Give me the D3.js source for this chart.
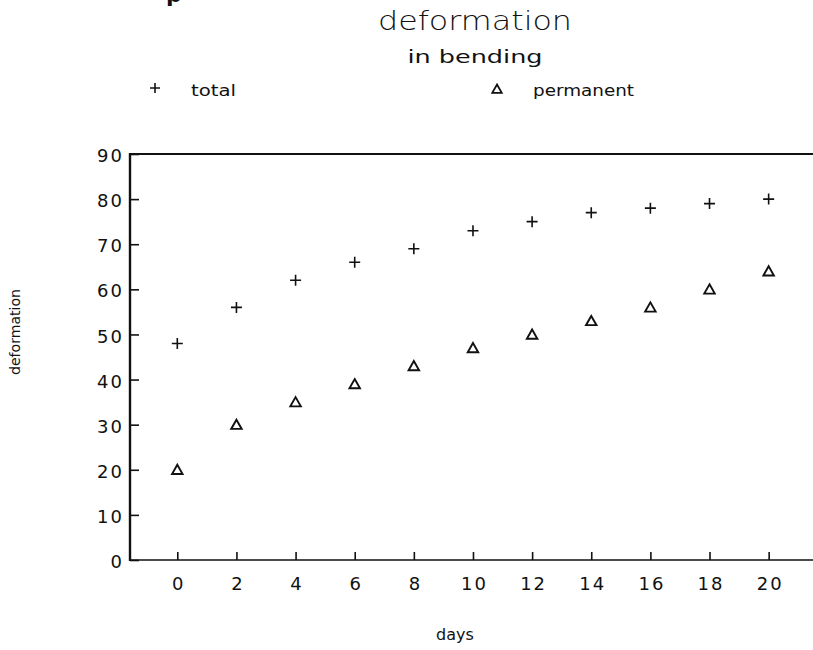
<!DOCTYPE html>
<html>
<head>
<meta charset="utf-8">
<script src="https://cdn.jsdelivr.net/npm/d3@7"></script>
<style>
  html, body { margin: 0; padding: 0; background: #fff; }
  svg { display: block; }
  text { font-family: "DejaVu Sans", sans-serif; fill: #111; }
</style>
</head>
<body>
<svg id="chart" width="813" height="650"></svg>
<script>
// Deformation in bending over time
const days = [0, 2, 4, 6, 8, 10, 12, 14, 16, 18, 20];
const total = [48, 56, 62, 66, 69, 73, 75, 77, 78, 79, 80];
const permanent = [20, 30, 35, 39, 43, 47, 50, 53, 56, 60, 64];
const xTicks = [0, 2, 4, 6, 8, 10, 12, 14, 16, 18, 20];
const yTicks = [0, 10, 20, 30, 40, 50, 60, 70, 80, 90];

const svg = d3.select("#chart");
const W = 813;
const plotLeft = 130, plotTop = 154, plotBottom = 560;

const x = d3.scaleLinear().domain([-1.6, 21.5]).range([plotLeft, W]);
const y = d3.scaleLinear().domain([0, 90]).range([plotBottom, plotTop]);

// titles
svg.append("text")
  .attr("x", 475).attr("y", 30)
  .attr("text-anchor", "middle")
  .attr("font-family", "'Open Sans', 'DejaVu Sans', sans-serif")
  .attr("font-size", 26).attr("font-weight", 300)
  .attr("textLength", 194).attr("lengthAdjust", "spacingAndGlyphs")
  .text("deformation");
svg.append("text")
  .attr("x", 475).attr("y", 63)
  .attr("text-anchor", "middle")
  .attr("font-size", 18)
  .attr("textLength", 135).attr("lengthAdjust", "spacingAndGlyphs")
  .text("in bending");

// letter fragment at the top edge
svg.append("text")
  .attr("x", 166).attr("y", 2)
  .attr("font-family", "Liberation Serif").attr("font-weight", "bold")
  .attr("font-size", 22)
  .text("p");

// marker shapes
const plusPath = s => `M${-s},0H${s}M0,${-s}V${s}`;
const triPath = s => `M0,${-s}L${s * 1.05},${s * 0.85}L${-s * 1.05},${s * 0.85}Z`;

// legend
svg.append("path").attr("transform", "translate(155,88)")
  .attr("d", plusPath(5)).attr("stroke", "#111").attr("stroke-width", 1.6).attr("fill", "none");
svg.append("text").attr("x", 191).attr("y", 96).attr("font-size", 16)
  .attr("textLength", 45).attr("lengthAdjust", "spacingAndGlyphs").text("total");
svg.append("path").attr("transform", "translate(497,89)")
  .attr("d", triPath(4.5)).attr("stroke", "#111").attr("stroke-width", 1.8).attr("fill", "none");
svg.append("text").attr("x", 533).attr("y", 96).attr("font-size", 16)
  .attr("textLength", 101).attr("lengthAdjust", "spacingAndGlyphs").text("permanent");

// axes
const yAxis = d3.axisLeft(y).tickValues(yTicks).tickSizeInner(-9).tickSizeOuter(0).tickPadding(6);
const gy = svg.append("g").attr("transform", `translate(${plotLeft},0)`).call(yAxis);
gy.select(".domain").remove();
gy.selectAll(".tick line").attr("stroke", "#111").attr("stroke-width", 1.6);
gy.selectAll(".tick text")
  .attr("font-size", 18).attr("letter-spacing", 2).attr("dy", "0.42em")
  .attr("font-family", "DejaVu Sans").attr("fill", "#111");

const xAxis = d3.axisBottom(x).tickValues(xTicks).tickSizeInner(-8).tickSizeOuter(0).tickPadding(17);
const gx = svg.append("g").attr("transform", `translate(0,${plotBottom})`).call(xAxis);
gx.select(".domain").remove();
gx.selectAll(".tick line").attr("stroke", "#111").attr("stroke-width", 1.6);
gx.selectAll(".tick text")
  .attr("font-size", 18).attr("letter-spacing", 2).attr("dx", 1)
  .attr("font-family", "DejaVu Sans").attr("fill", "#111");

// frame lines
svg.append("line").attr("x1", plotLeft).attr("x2", plotLeft).attr("y1", plotTop - 1).attr("y2", plotBottom + 1)
  .attr("stroke", "#111").attr("stroke-width", 2.4);
svg.append("line").attr("x1", plotLeft).attr("x2", W).attr("y1", plotTop).attr("y2", plotTop)
  .attr("stroke", "#111").attr("stroke-width", 2);
svg.append("line").attr("x1", plotLeft).attr("x2", W).attr("y1", plotBottom).attr("y2", plotBottom)
  .attr("stroke", "#111").attr("stroke-width", 1.6);

// axis titles
svg.append("text")
  .attr("transform", "translate(20,332) rotate(-90)")
  .attr("text-anchor", "middle").attr("font-size", 14)
  .attr("textLength", 86).attr("lengthAdjust", "spacingAndGlyphs")
  .text("deformation");
svg.append("text")
  .attr("x", 455).attr("y", 640)
  .attr("text-anchor", "middle").attr("font-size", 16)
  .text("days");

// data points
svg.append("g").selectAll("path").data(days)
  .join("path")
  .attr("transform", (d, i) => `translate(${x(d)},${y(total[i])})`)
  .attr("d", plusPath(5.5))
  .attr("stroke", "#111").attr("stroke-width", 1.6).attr("fill", "none");

svg.append("g").selectAll("path").data(days)
  .join("path")
  .attr("transform", (d, i) => `translate(${x(d)},${y(permanent[i])})`)
  .attr("d", triPath(5))
  .attr("stroke", "#111").attr("stroke-width", 1.9).attr("fill", "none");
</script>
</body>
</html>
